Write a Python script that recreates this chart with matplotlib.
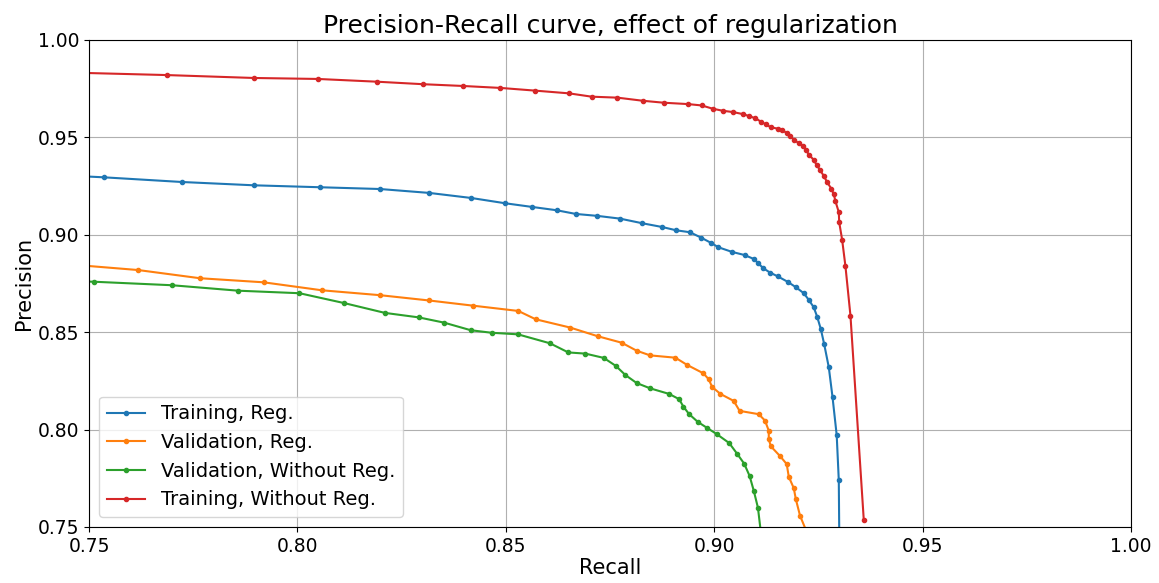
import matplotlib
matplotlib.use("Agg")
import matplotlib.pyplot as plt

title = "Precision-Recall curve, effect of regularization"
x_label = "Recall"
y_label = "Precision"
series_labels = ["Training, Reg.", "Validation, Reg.",
                 "Validation, Without Reg.", "Training, Without Reg."]
x_ticks = [0.75, 0.80, 0.85, 0.90, 0.95, 1.00]
y_ticks = [0.75, 0.80, 0.85, 0.90, 0.95, 1.00]

train_reg_recall = [0.7000, 0.7536, 0.7723, 0.7896, 0.8055, 0.8198, 0.8316, 0.8417,
                    0.8498, 0.8563, 0.8622, 0.8668, 0.8720, 0.8774, 0.8828, 0.8875,
                    0.8909, 0.8942, 0.8968, 0.8992, 0.9010, 0.9043, 0.9073, 0.9096,
                    0.9106, 0.9118, 0.9134, 0.9153, 0.9176, 0.9196, 0.9215, 0.9228,
                    0.9239, 0.9247, 0.9256, 0.9264, 0.9275, 0.9284, 0.9294, 0.9299,
                    0.9302]
train_reg_precision = [0.9350, 0.9295, 0.9271, 0.9254, 0.9244, 0.9235, 0.9215, 0.9189,
                       0.9162, 0.9143, 0.9126, 0.9107, 0.9097, 0.9083, 0.9059, 0.9040,
                       0.9023, 0.9013, 0.8986, 0.8959, 0.8936, 0.8912, 0.8896, 0.8875,
                       0.8853, 0.8828, 0.8806, 0.8786, 0.8759, 0.8731, 0.8700, 0.8663,
                       0.8627, 0.8580, 0.8515, 0.8438, 0.8320, 0.8166, 0.7971, 0.7740,
                       0.7000]

val_reg_recall = [0.7000, 0.7618, 0.7766, 0.7919, 0.8059, 0.8198, 0.8315, 0.8422,
                  0.8530, 0.8572, 0.8654, 0.8721, 0.8778, 0.8814, 0.8846, 0.8907,
                  0.8935, 0.8974, 0.8987, 0.8995, 0.9015, 0.9047, 0.9061, 0.9107,
                  0.9122, 0.9131, 0.9131, 0.9136, 0.9158, 0.9174, 0.9179, 0.9191,
                  0.9196, 0.9206, 0.9230]
val_reg_precision = [0.8927, 0.8819, 0.8777, 0.8756, 0.8715, 0.8690, 0.8663, 0.8636,
                     0.8609, 0.8566, 0.8524, 0.8479, 0.8446, 0.8405, 0.8381, 0.8369,
                     0.8332, 0.8289, 0.8258, 0.8219, 0.8183, 0.8147, 0.8096, 0.8079,
                     0.8046, 0.7994, 0.7950, 0.7914, 0.7864, 0.7823, 0.7758, 0.7699,
                     0.7642, 0.7558, 0.7433]

val_noreg_recall = [0.7000, 0.7512, 0.7699, 0.7858, 0.8005, 0.8113, 0.8210, 0.8291,
                    0.8352, 0.8416, 0.8466, 0.8529, 0.8606, 0.8650, 0.8691, 0.8735,
                    0.8764, 0.8787, 0.8814, 0.8846, 0.8892, 0.8916, 0.8926, 0.8940,
                    0.8961, 0.8982, 0.9006, 0.9036, 0.9055, 0.9072, 0.9085, 0.9095,
                    0.9105, 0.9117]
val_noreg_precision = [0.8785, 0.8759, 0.8741, 0.8713, 0.8700, 0.8649, 0.8599, 0.8576,
                       0.8549, 0.8510, 0.8497, 0.8489, 0.8443, 0.8396, 0.8390, 0.8368,
                       0.8327, 0.8280, 0.8239, 0.8212, 0.8183, 0.8156, 0.8118, 0.8079,
                       0.8039, 0.8010, 0.7977, 0.7931, 0.7876, 0.7825, 0.7762, 0.7686,
                       0.7599, 0.7382]

train_noreg_recall = [0.7000, 0.7686, 0.7896, 0.8049, 0.8190, 0.8302, 0.8397, 0.8487,
                      0.8571, 0.8652, 0.8706, 0.8768, 0.8829, 0.8879, 0.8937, 0.8970,
                      0.8997, 0.9020, 0.9045, 0.9068, 0.9083, 0.9099, 0.9112, 0.9124,
                      0.9136, 0.9152, 0.9163, 0.9175, 0.9182, 0.9192, 0.9203, 0.9214,
                      0.9220, 0.9228, 0.9239, 0.9246, 0.9254, 0.9263, 0.9271, 0.9281,
                      0.9287, 0.9291, 0.9299, 0.9300, 0.9307, 0.9315, 0.9327, 0.9359]
train_noreg_precision = [0.9858, 0.9820, 0.9805, 0.9800, 0.9786, 0.9773, 0.9764, 0.9754,
                         0.9740, 0.9726, 0.9709, 0.9704, 0.9688, 0.9678, 0.9671, 0.9664,
                         0.9647, 0.9637, 0.9630, 0.9620, 0.9610, 0.9598, 0.9581, 0.9567,
                         0.9552, 0.9545, 0.9538, 0.9521, 0.9507, 0.9487, 0.9470, 0.9456,
                         0.9435, 0.9410, 0.9384, 0.9358, 0.9333, 0.9302, 0.9270, 0.9237,
                         0.9208, 0.9172, 0.9116, 0.9064, 0.8975, 0.8838, 0.8585, 0.7534]

colors = ["#1f77b4", "#ff7f0e", "#2ca02c", "#d62728"]

fig = plt.figure(figsize=(11.59, 5.83), dpi=100)
ax = fig.add_axes([0.0768, 0.0961, 0.8990, 0.8353])

data = [(train_reg_recall, train_reg_precision),
        (val_reg_recall, val_reg_precision),
        (val_noreg_recall, val_noreg_precision),
        (train_noreg_recall, train_noreg_precision)]
for (rx, py), lab, c in zip(data, series_labels, colors):
    ax.plot(rx, py, marker='.', markersize=6, linewidth=1.5, color=c, label=lab)

ax.set_xlim(0.75, 1.00)
ax.set_ylim(0.75, 1.00)
ax.set_xticks(x_ticks)
ax.set_yticks(y_ticks)
ax.set_xticklabels([f"{t:.2f}" for t in x_ticks])
ax.set_yticklabels([f"{t:.2f}" for t in y_ticks])
ax.tick_params(labelsize=13.5)
ax.grid(True)
ax.set_title(title, fontsize=18, pad=5)
ax.set_xlabel(x_label, fontsize=15, labelpad=2)
ax.set_ylabel(y_label, fontsize=15, labelpad=3)
ax.legend(loc='lower left', fontsize=14)

fig.savefig("out.png", dpi=100)
